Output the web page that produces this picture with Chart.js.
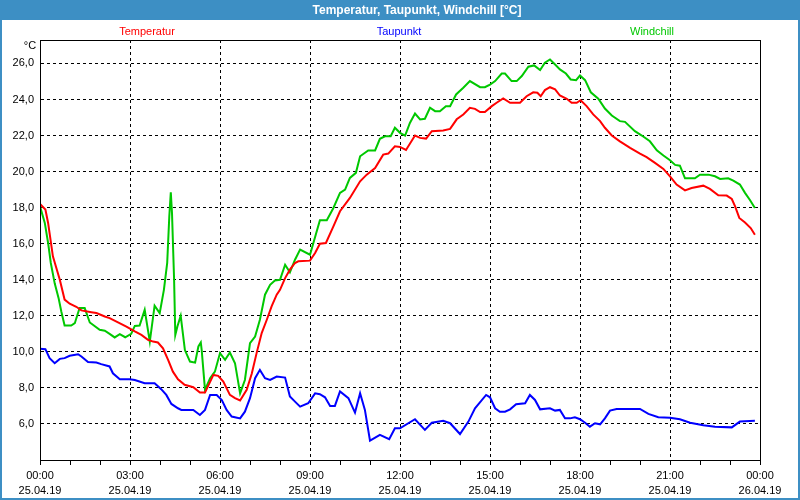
<!DOCTYPE html>
<html>
<head>
<meta charset="utf-8">
<script src="https://cdn.jsdelivr.net/npm/chart.js@4/dist/chart.umd.min.js"></script>
<style>
  html, body { margin: 0; padding: 0; background: #fff; }
  canvas { display: block; }
</style>
</head>
<body>
<canvas id="chart" width="800" height="500"></canvas>
<script>
// hours since 25.04.19 00:00
const tempHours = [0,0.18,0.27,0.43,0.66,0.82,0.99,1.21,1.38,1.71,1.88,2.16,2.32,2.6,2.88,3.16,3.38,3.6,3.77,3.93,4.1,4.27,4.43,4.6,4.82,5.11,5.33,5.5,5.78,5.94,6.11,6.33,6.5,6.67,6.89,7.06,7.22,7.39,7.56,7.72,7.89,8,8.17,8.33,8.5,8.61,9,9.17,9.33,9.53,9.78,10,10.33,10.67,10.89,11.17,11.44,11.61,11.83,12,12.2,12.5,12.67,12.87,13.06,13.44,13.67,13.89,14.11,14.33,14.5,14.67,14.83,15.06,15.22,15.44,15.67,16,16.22,16.44,16.58,16.69,16.83,17,17.17,17.33,17.56,17.72,17.89,18.02,18.22,18.44,18.67,18.83,19.06,19.33,19.67,20,20.22,20.5,20.78,21,21.22,21.5,21.72,22.11,22.33,22.61,22.89,23.06,23.17,23.31,23.5,23.69,23.83]
const tempValues = [18.2,17.9,17.15,15.3,14.0,12.9,12.67,12.5,12.3,12.2,12.15,11.96,11.87,11.63,11.4,11.13,10.94,10.67,10.57,10.52,10.2,9.56,8.9,8.48,8.17,8.04,7.74,7.74,8.72,8.67,8.35,7.61,7.43,7.3,7.89,8.8,9.93,11.04,11.78,12.52,13.17,13.44,14.09,14.56,14.93,15.02,15.06,15.48,16.0,16.04,16.96,17.8,18.54,19.46,19.83,20.2,20.94,21.0,21.4,21.37,21.2,22.0,21.87,21.83,22.24,22.28,22.37,22.9,23.17,23.54,23.48,23.3,23.3,23.63,23.82,24.06,23.82,23.82,24.18,24.4,24.37,24.18,24.52,24.68,24.56,24.22,24.04,23.82,23.82,23.96,23.63,23.17,22.8,22.43,22.0,21.68,21.32,21.0,20.8,20.48,20.15,19.74,19.28,18.96,19.09,19.22,19.04,18.68,18.67,18.48,18.07,17.43,17.18,16.87,16.5]

const dewHours = [0,0.18,0.32,0.49,0.66,0.82,0.99,1.27,1.38,1.6,1.88,2.04,2.32,2.43,2.66,2.99,3.16,3.49,3.82,4.04,4.21,4.38,4.6,4.71,5.11,5.33,5.5,5.67,5.89,6.06,6.22,6.39,6.67,6.83,7,7.17,7.33,7.5,7.67,7.89,8.17,8.33,8.5,8.67,8.94,9.17,9.33,9.5,9.67,9.83,10,10.28,10.5,10.67,10.83,11,11.33,11.64,11.83,12,12.5,12.83,13.06,13.44,13.67,14,14.28,14.5,14.87,15,15.17,15.33,15.5,15.67,15.87,16.17,16.33,16.5,16.67,17,17.17,17.33,17.5,17.67,17.83,18,18.17,18.33,18.5,18.67,18.83,19,19.22,20,20.28,20.61,21,21.33,21.67,22.11,22.5,23.06,23.33,23.83]
const dewValues = [10.17,10.15,9.65,9.37,9.61,9.65,9.78,9.87,9.74,9.43,9.41,9.32,9.19,8.81,8.48,8.48,8.44,8.26,8.26,7.93,7.61,7.11,6.87,6.78,6.78,6.5,6.78,7.61,7.61,7.33,6.78,6.41,6.31,6.68,7.43,8.54,9.0,8.54,8.44,8.63,8.57,7.52,7.24,6.96,7.15,7.7,7.65,7.48,7.0,7.0,7.8,7.43,6.63,7.7,6.78,5.07,5.39,5.15,5.76,5.76,6.26,5.67,6.07,6.18,6.04,5.44,6.13,6.87,7.61,7.48,6.87,6.68,6.68,6.81,7.09,7.15,7.61,7.33,6.81,6.87,6.74,6.78,6.31,6.31,6.37,6.26,6.07,5.85,6.04,5.98,6.31,6.74,6.83,6.83,6.56,6.37,6.35,6.26,6.07,5.93,5.85,5.81,6.13,6.18]

const chillHours = [0,0.16,0.27,0.36,0.49,0.62,0.71,0.82,1.04,1.16,1.32,1.49,1.66,1.99,2.16,2.32,2.49,2.66,2.84,3.04,3.16,3.32,3.49,3.66,3.82,3.99,4.13,4.24,4.31,4.36,4.4,4.47,4.51,4.58,4.69,4.83,5,5.17,5.28,5.36,5.39,5.5,5.67,5.83,6,6.17,6.33,6.5,6.67,6.83,7,7.17,7.33,7.5,7.67,7.83,8,8.17,8.33,8.5,8.67,9,9.33,9.56,9.78,10,10.17,10.33,10.53,10.67,10.94,11.17,11.33,11.5,11.69,11.83,12,12.17,12.33,12.5,12.67,12.83,13,13.17,13.33,13.53,13.67,13.87,14.11,14.33,14.67,14.83,15,15.17,15.39,15.5,15.72,15.89,16.06,16.28,16.47,16.67,16.83,17,17.17,17.33,17.53,17.69,17.87,18,18.17,18.36,18.61,18.83,19.06,19.33,19.5,19.83,20.06,20.33,20.56,20.78,21,21.17,21.33,21.5,21.83,22,22.28,22.5,22.67,22.94,23.11,23.33,23.5,23.67,23.83]
const chillValues = [18.07,17.15,16.04,14.93,13.8,12.98,12.24,11.46,11.46,11.59,12.43,12.43,11.63,11.22,11.17,11.0,10.8,10.98,10.81,11.0,11.44,11.46,12.33,10.57,12.56,12.15,13.44,14.93,17.52,18.85,17.7,14.0,10.94,11.41,12.0,10.1,9.46,9.4,10.3,10.52,10.1,7.89,8.54,8.9,9.93,9.56,9.96,9.37,7.7,8.44,10.48,10.85,11.78,13.17,13.72,13.96,14.0,14.83,14.41,15.11,15.67,15.39,17.3,17.3,17.98,18.82,19.0,19.65,19.93,20.85,21.17,21.17,21.82,21.96,21.96,22.43,22.15,22.0,22.7,23.22,22.89,22.93,23.54,23.35,23.35,23.63,23.63,24.28,24.65,25.02,24.68,24.68,24.83,25.02,25.44,25.44,25.02,25.02,25.3,25.82,25.89,25.63,26.04,26.22,25.94,25.67,25.44,25.11,25.07,25.33,25.07,24.4,24.04,23.5,23.11,22.8,22.76,22.24,22.0,21.68,21.18,20.89,20.63,20.37,20.33,19.63,19.63,19.83,19.83,19.74,19.59,19.63,19.5,19.28,18.82,18.41,17.98]

const seriesNames = ['Temperatur', 'Taupunkt', 'Windchill']
const seriesColors = ['#ff0000', '#0000ff', '#00c800']
const yTicks = [6, 8, 10, 12, 14, 16, 18, 20, 22, 24, 26]
const dayLabels = ['25.04.19', '26.04.19']
const titleText = 'Temperatur, Taupunkt, Windchill [°C]'

const toPoints = (hs, vs) => hs.map((h, i) => ({ x: h, y: vs[i] }))
const FONT = '"Liberation Sans", Arial, sans-serif'
const BAR = '#3d8fc4'

const frame = {
    id: 'frame',
    beforeDraw(chart) {
        const c = chart.ctx
        c.save()
        c.fillStyle = '#ffffff'
        c.fillRect(0, 0, chart.width, chart.height)
        c.restore()
    },
    afterDraw(chart) {
        const c = chart.ctx
        const a = chart.chartArea
        c.save()
        // title bar
        c.fillStyle = BAR
        c.fillRect(0, 0, chart.width, 20)
        c.strokeStyle = BAR
        c.lineWidth = 2
        c.strokeRect(1, 1, chart.width - 2, chart.height - 2)
        c.fillStyle = '#ffffff'
        c.font = 'bold 12px ' + FONT
        c.textAlign = 'center'
        c.textBaseline = 'middle'
        c.fillText(titleText, 417, 10.5)
        // series names
        c.font = '11px ' + FONT
        const nx = [147, 399, 652]
        seriesNames.forEach((n, i) => {
            c.fillStyle = seriesColors[i]
            c.fillText(n, nx[i], 32)
        })
        c.fillStyle = '#000'
        c.fillText('°C', 30, 46)
        // plot frame
        c.strokeStyle = '#000'
        c.lineWidth = 1
        c.strokeRect(Math.round(a.left) + 0.5, Math.round(a.top) + 0.5,
            Math.round(a.right - a.left), Math.round(a.bottom - a.top))
        c.restore()
    }
}

new Chart(document.getElementById('chart'), {
    type: 'line',
    data: {
        datasets: [
            { label: seriesNames[0], data: toPoints(tempHours, tempValues), borderColor: seriesColors[0] },
            { label: seriesNames[1], data: toPoints(dewHours, dewValues), borderColor: seriesColors[1] },
            { label: seriesNames[2], data: toPoints(chillHours, chillValues), borderColor: seriesColors[2] },
        ]
    },
    options: {
        responsive: false,
        animation: false,
        devicePixelRatio: 1,
        layout: { padding: { top: 40, right: 40, left: 0, bottom: 0 } },
        elements: {
            point: { radius: 0 },
            line: { borderWidth: 2, tension: 0, fill: false }
        },
        plugins: {
            legend: { display: false },
            title: { display: false },
            tooltip: { enabled: false }
        },
        scales: {
            x: {
                type: 'linear',
                min: 0,
                max: 24,
                afterFit(s) { s.height = 40 },
                afterBuildTicks(s) {
                    s.ticks = Array.from({ length: 25 }, (_, i) => ({ value: i }))
                },
                ticks: {
                    autoSkip: false,
                    maxRotation: 0,
                    padding: 3,
                    color: '#000',
                    font: { family: FONT, size: 11, lineHeight: '15px' },
                    callback(v) {
                        if (v % 3 !== 0) return ''
                        const hh = String(v % 24).padStart(2, '0') + ':00'
                        return [hh, dayLabels[v >= 24 ? 1 : 0]]
                    }
                },
                grid: {
                    color: ctx => (ctx.tick && ctx.tick.value % 3 === 0) ? '#000' : 'rgba(0,0,0,0)',
                    tickColor: '#000',
                    tickLength: 5,
                    tickBorderDash: []
                },
                border: { display: true, color: '#000', dash: [3, 3] }
            },
            y: {
                min: 4,
                max: 27.3,
                afterFit(s) { s.width = 40 },
                afterBuildTicks(s) {
                    s.ticks = yTicks.map(v => ({ value: v }))
                },
                ticks: {
                    padding: 6,
                    color: '#000',
                    font: { family: FONT, size: 11 },
                    callback: v => v.toFixed(1).replace('.', ',')
                },
                grid: { color: '#000', drawTicks: false },
                border: { display: true, color: '#000', dash: [3, 3] }
            }
        }
    },
    plugins: [frame]
})
</script>
</body>
</html>
